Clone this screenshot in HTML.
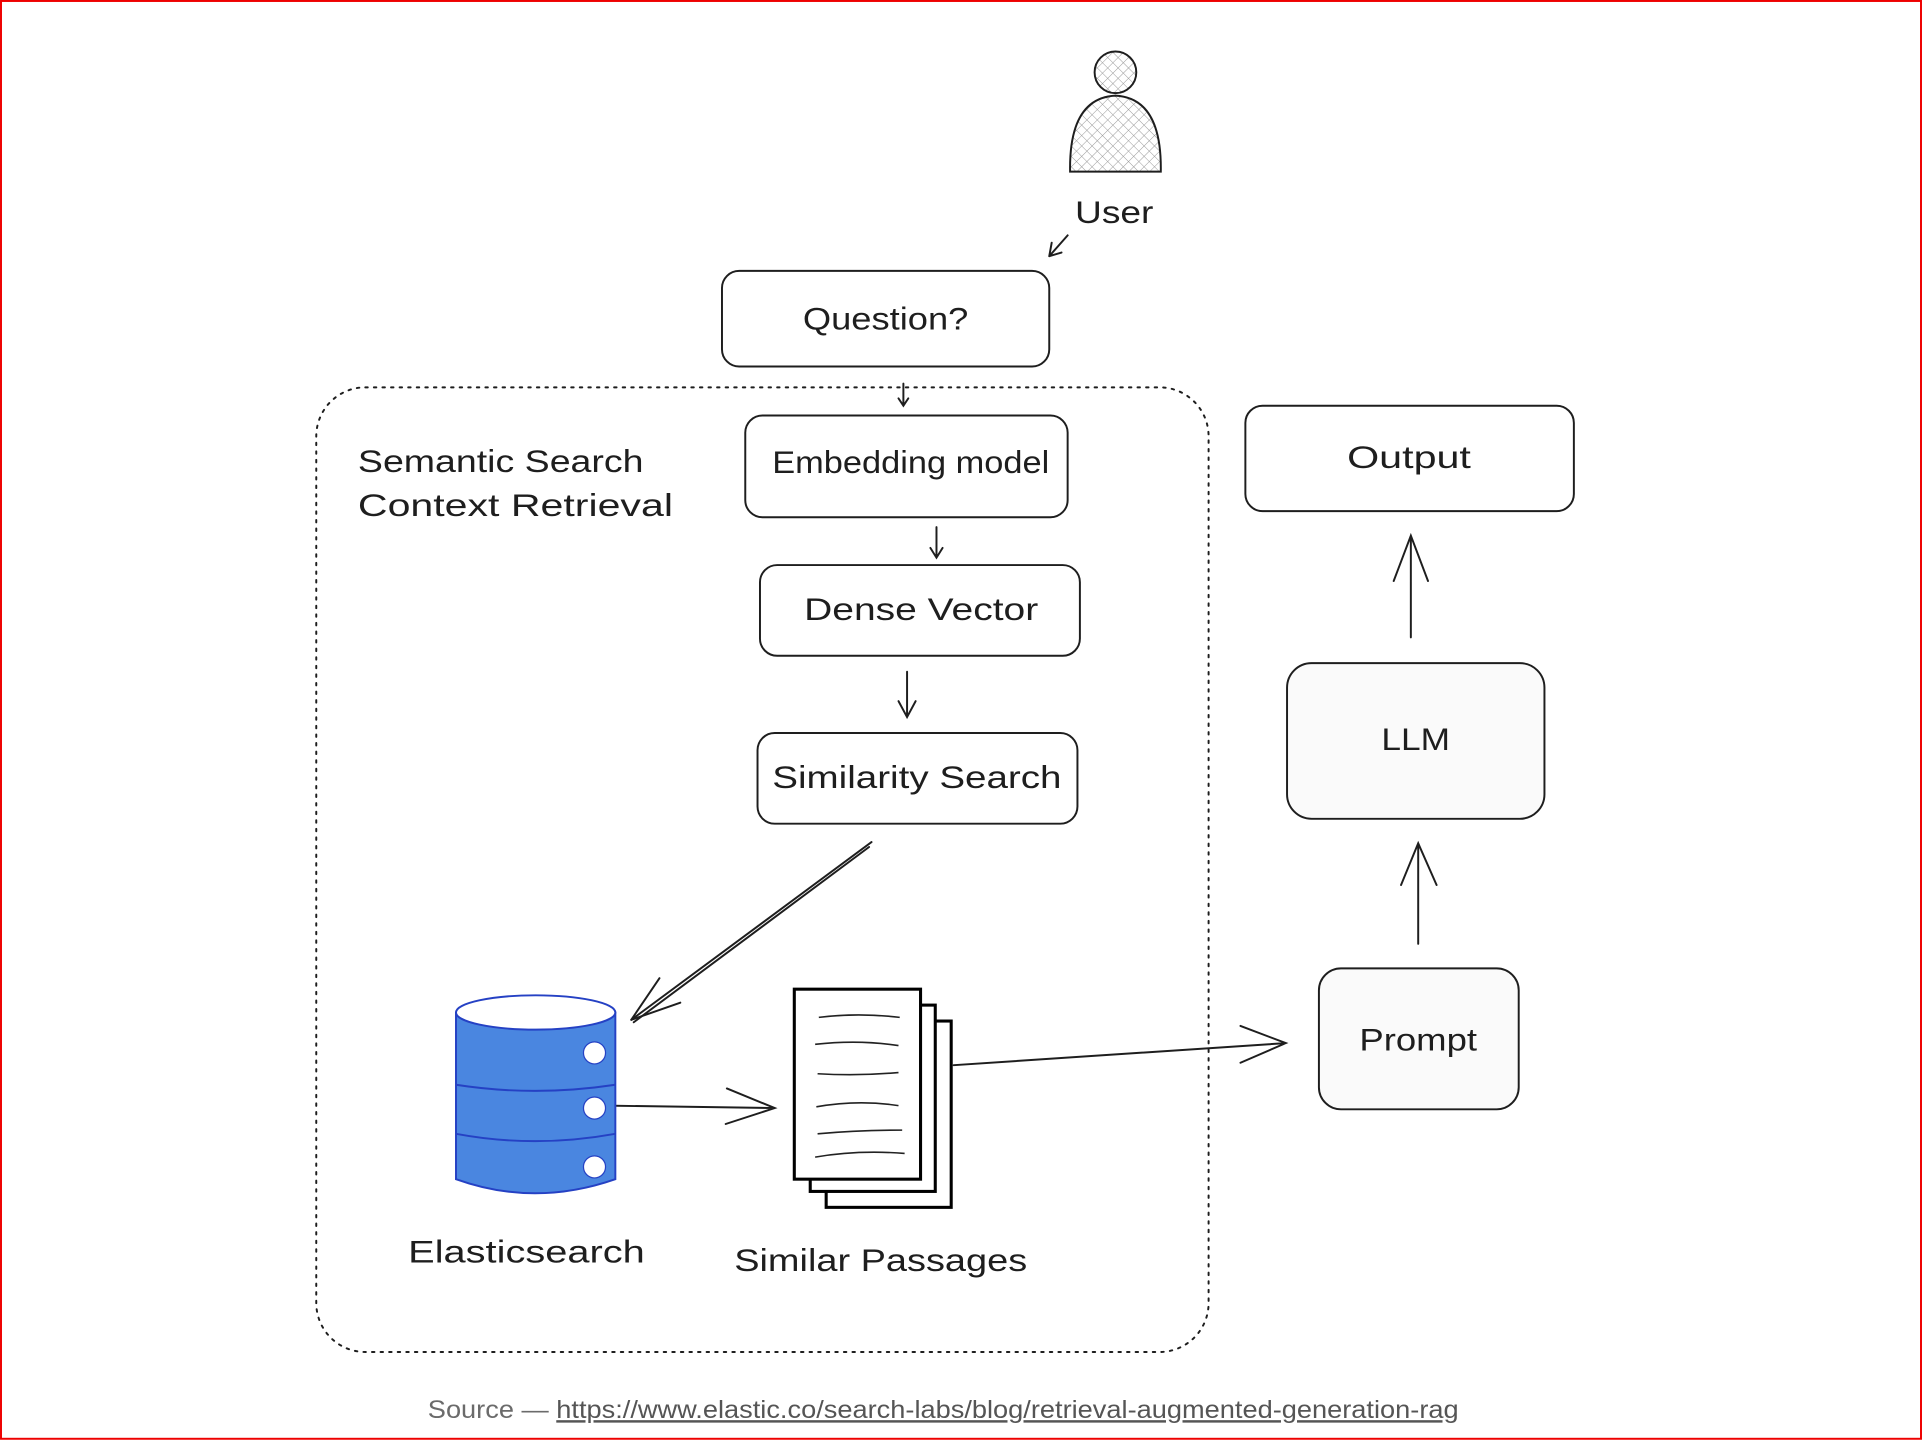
<!DOCTYPE html>
<html><head><meta charset="utf-8"><style>
html,body{margin:0;padding:0;background:#fff;}
svg{display:block;}
text{font-family:"Liberation Sans","DejaVu Sans",sans-serif;fill:#1e1e1e;}
</style></head><body>
<svg width="1922" height="1440" viewBox="0 0 1568 1174.8" xmlns="http://www.w3.org/2000/svg">
<defs>
<pattern id="hatch" width="6" height="6" patternUnits="userSpaceOnUse" patternTransform="rotate(45)">
<line x1="0" y1="0" x2="0" y2="6" stroke="#999" stroke-width="0.8"/>
<line x1="0" y1="0" x2="6" y2="0" stroke="#999" stroke-width="0.8"/>
</pattern>
</defs>
<rect x="0.8" y="0.8" width="1566.4" height="1173" fill="#fff" stroke="#e00" stroke-width="1.6"/>
<g fill="none" stroke="#1e1e1e" stroke-width="1.6" stroke-linecap="round">
<rect x="258" y="316" width="728" height="787" rx="40" stroke-dasharray="2 5"/>
<circle cx="910" cy="59" r="17" fill="url(#hatch)"/>
<path d="M873 140 Q872 80 910 78 Q948 80 947 140 Z" fill="url(#hatch)"/>
<path d="M871 192 L856 209 M856 209 L858 198 M856 209 L866 206"/>
<rect x="589" y="221" width="267" height="78" rx="14"/>
<rect x="608" y="339" width="263" height="83" rx="14"/>
<rect x="620" y="461" width="261" height="74" rx="14"/>
<rect x="618" y="598" width="261" height="74" rx="14"/>
<rect x="1016" y="331" width="268" height="86" rx="14"/>
<rect x="1050" y="541" width="210" height="127" rx="20" fill="#fafafa"/>
<rect x="1076" y="790" width="163" height="115" rx="18" fill="#fafafa"/>
<path d="M737 313 L737 331 M733 325 L737 331 L741 325"/>
<path d="M764 430 L764 455 M759 447 L764 455 L769 447"/>
<path d="M740 548 L740 585 M733 572 L740 585 L747 572"/>
<path d="M711 687 L515 832 M709 691 L517 834"/>
<path d="M515 832 L538 798 M515 832 L555 818"/>
<path d="M495 902 L632 904 M593 888 L632 904 L592 917"/>
<path d="M778 869 L1049 851 M1012 837 L1049 851 L1012 867"/>
<path d="M1157 770 L1157 688 M1143 722 L1157 688 L1172 722"/>
<path d="M1151 520 L1151 437 M1137 474 L1151 437 L1165 474"/>
</g>
<g stroke="#2541c4" stroke-width="1.6">
<path d="M372 826 L372 962 Q436 985 502 962 L502 826 Z" fill="#4a86e0"/>
<ellipse cx="437" cy="826" rx="65" ry="14" fill="#fff"/>
<path d="M372 885 Q436 895 502 885 M372 925 Q436 937 502 925" fill="none"/>
</g>
<g fill="#fff" stroke="#2541c4" stroke-width="1">
<circle cx="485" cy="859" r="9"/><circle cx="485" cy="904" r="9"/><circle cx="485" cy="952" r="9"/>
</g>
<g fill="#fff" stroke="#000" stroke-width="2.5">
<rect x="674" y="833" width="102" height="152"/>
<rect x="661" y="820" width="102" height="152"/>
<rect x="648" y="807" width="103" height="155"/>
</g>
<g fill="none" stroke="#222" stroke-width="1.3">
<path d="M668 830 Q700 826 734 830 M665 852 Q700 848 733 853 M667 876 Q700 878 733 875 M666 903 Q700 897 733 902 M667 925 Q700 922 736 922 M665 944 Q700 938 738 941"/>
</g>
<g font-size="26" lengthAdjust="spacingAndGlyphs">
<text x="877" y="182" textLength="64" lengthAdjust="spacingAndGlyphs">User</text>
<text x="655" y="269" textLength="135" lengthAdjust="spacingAndGlyphs">Question?</text>
<text x="630" y="386" textLength="226" lengthAdjust="spacingAndGlyphs">Embedding model</text>
<text x="656" y="506" textLength="191" lengthAdjust="spacingAndGlyphs">Dense Vector</text>
<text x="630" y="643" textLength="236" lengthAdjust="spacingAndGlyphs">Similarity Search</text>
<text x="1099" y="382" textLength="101" lengthAdjust="spacingAndGlyphs">Output</text>
<text x="1127" y="612" textLength="56" lengthAdjust="spacingAndGlyphs">LLM</text>
<text x="1109" y="857" textLength="96" lengthAdjust="spacingAndGlyphs">Prompt</text>
<text x="292" y="385" textLength="233" lengthAdjust="spacingAndGlyphs">Semantic Search</text>
<text x="292" y="421" textLength="257" lengthAdjust="spacingAndGlyphs">Context Retrieval</text>
<text x="333" y="1030" textLength="193" lengthAdjust="spacingAndGlyphs">Elasticsearch</text>
<text x="599" y="1037" textLength="239" lengthAdjust="spacingAndGlyphs">Similar Passages</text>
</g>
<text x="349" y="1157" font-size="20" style="fill:#6b6b6b" textLength="841" lengthAdjust="spacingAndGlyphs">Source — <tspan text-decoration="underline" style="fill:#555">https://www.elastic.co/search-labs/blog/retrieval-augmented-generation-rag</tspan></text>
</svg>
</body></html>
